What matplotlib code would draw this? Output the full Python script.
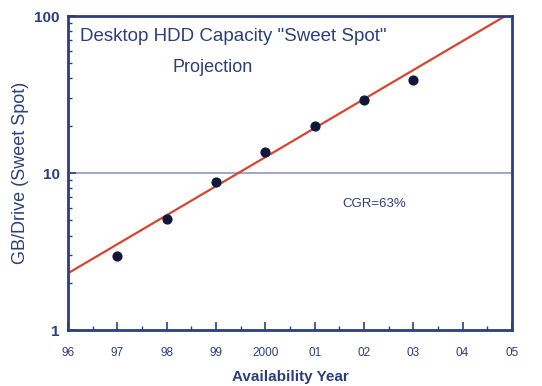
import matplotlib
matplotlib.use("Agg")
import matplotlib.pyplot as plt

plt.rcParams["font.family"] = ["Liberation Sans", "DejaVu Sans"]

years = [1997, 1998, 1999, 2000, 2001, 2002, 2003]
gb_per_drive = [2.95, 5.1, 8.8, 13.6, 19.9, 29.2, 39.0]

trend_years = [1996, 2005]
trend_vals = [2.3, 106]

tick_years = [1996, 1997, 1998, 1999, 2000, 2001, 2002, 2003, 2004, 2005]
tick_labels = ["96", "97", "98", "99", "2000", "01", "02", "03", "04", "05"]

navy = "#2b3f7e"

fig = plt.figure(figsize=(5.42, 3.86), dpi=100)
ax = fig.add_axes([0.1255, 0.145, 0.819, 0.8135])

ax.axhline(10, color="#8e97b8", linewidth=1.2, zorder=1)
ax.plot(trend_years, trend_vals, color="#d8452f", linewidth=1.6, zorder=2)
ax.scatter(years, gb_per_drive, s=40, color="#10183a", zorder=3)

ax.set_yscale("log")
ax.set_ylim(1, 100)
ax.set_xlim(1996, 2005)
ax.set_xticks(tick_years)
ax.set_xticklabels(tick_labels)
ax.set_xticks([y + 0.5 for y in tick_years[:-1]], minor=True)
ax.set_yticks([1, 10, 100])
ax.set_yticklabels(["1", "10", "100"])

for s in ax.spines.values():
    s.set_color(navy)
    s.set_linewidth(2)

ax.tick_params(which="both", direction="in", colors=navy)
ax.tick_params(which="major", length=6, width=1.2, labelcolor=navy)
ax.tick_params(which="minor", length=3, width=1)
ax.tick_params(axis="x", pad=12, labelsize=8.5)
ax.tick_params(axis="y", labelsize=11, pad=6)
for lbl in ax.get_yticklabels():
    lbl.set_fontweight("bold")

ax.set_xlabel("Availability Year", color=navy, fontsize=11, fontweight="bold", labelpad=8)
ax.set_ylabel("GB/Drive (Sweet Spot)", color=navy, fontsize=13, labelpad=4)

ax.text(0.027, 0.935, 'Desktop HDD Capacity "Sweet Spot"', transform=ax.transAxes,
        color=navy, fontsize=13.5, ha="left", va="center")
ax.text(0.325, 0.835, "Projection", transform=ax.transAxes,
        color=navy, fontsize=13, ha="center", va="center")
ax.text(0.69, 0.4, "CGR=63%", transform=ax.transAxes,
        color=navy, fontsize=9.5, ha="center", va="center")

fig.savefig("out.png", dpi=100)
